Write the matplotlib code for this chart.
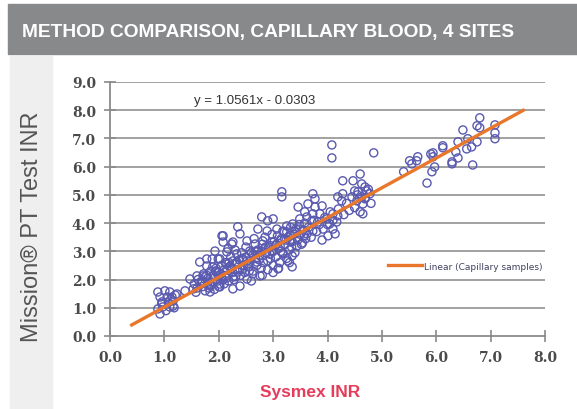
import numpy as np
import matplotlib.pyplot as plt
from matplotlib.patches import Rectangle

# Sysmex INR (x) vs Mission PT Test INR (y), capillary samples
sysmex = [
    # low cluster near 1.0
    0.88, 1.01, 1.10, 0.92, 1.05, 1.14, 0.96, 1.07, 1.16, 0.97, 1.10, 0.88, 1.23, 0.92, 1.16,
    1.12, 1.20, 1.03, 0.95, 1.18,
    # lower dense part
    1.38, 1.53, 1.47, 1.60, 1.69, 1.65, 1.78, 1.84, 2.02, 2.26, 1.88, 1.99, 2.21, 2.35,
    2.06, 2.08, 2.26, 2.17,
    1.80, 2.02, 2.39, 1.71, 1.99, 2.26, 2.52, 2.76, 1.89, 2.15, 2.39, 2.63, 1.78, 2.02,
    2.26, 2.52, 2.70, 2.90, 3.09, 3.27, 1.93, 2.15, 2.33, 2.57, 2.79, 2.98, 3.18, 3.35,
    2.24, 2.52, 2.67, 2.81, 2.98, 3.13, 3.31, 3.44, 2.08, 2.39, 2.72, 2.89, 3.07, 3.25,
    2.35, 2.79, 2.90, 3.00,
    1.55, 1.60, 1.62, 1.70, 1.72, 1.75, 1.80, 1.82, 1.85, 1.88, 1.90, 1.92, 1.95, 1.98,
    2.00, 2.00, 2.05, 2.05, 2.10, 2.10, 2.12, 2.15, 2.18, 2.20, 2.22, 2.25, 2.28, 2.30,
    2.30, 2.35, 2.38, 2.40, 2.42, 2.45, 2.48, 2.50, 2.50, 2.55, 2.58, 2.60, 2.62, 2.65,
    2.68, 2.70, 2.72, 2.75, 2.78, 2.80, 2.82, 2.85, 2.88, 2.90, 2.92, 2.95, 2.98, 3.00,
    3.00, 3.02, 3.05, 3.08, 3.10, 3.12, 3.15, 3.18, 3.20, 3.22, 3.25, 3.28, 3.30, 3.32,
    3.35, 3.38, 3.40, 3.42, 3.45, 3.48, 3.50, 3.52, 3.55, 3.58, 3.60, 3.65, 3.70, 3.75,
    3.80, 3.85, 3.90, 3.95, 4.00, 4.05, 4.10, 4.20, 4.30, 4.35, 4.40, 4.50, 4.55, 4.60,
    4.70, 4.75, 4.80,
    2.60, 2.80, 3.00, 3.10, 3.30, 3.35, 1.65, 1.75, 1.95, 2.15, 2.45, 2.70, 2.95, 3.15,
    1.58, 1.68, 1.78, 1.86, 1.94, 2.04, 2.14, 2.24, 2.34, 2.44, 2.54, 2.64, 2.74, 2.84,
    2.94, 3.04, 3.14, 3.24, 3.34, 3.44, 3.54,
    1.70, 1.83, 1.97, 2.08, 2.19, 2.31, 2.43, 2.56, 2.67, 2.86, 3.06, 3.21, 3.39, 3.57,
    # outliers
    3.16, 3.16, 4.08, 4.08, 4.85,
    # middle part
    4.60, 4.28, 4.47, 4.63, 4.69, 4.50, 4.56, 4.72, 4.78, 4.45, 4.63, 4.69, 4.28, 4.19,
    4.26, 4.54, 4.65, 4.65, 3.73, 3.77, 3.64, 3.46, 3.77, 3.90, 3.58, 3.73, 3.86, 3.62,
    3.49, 3.71, 3.82, 3.99, 4.10, 4.19, 4.04, 4.17, 3.92, 4.10, 4.01, 4.14, 3.25, 3.36,
    3.18, 3.49, 3.73, 3.62, 3.31,
    # upper part
    6.80, 6.75, 6.80, 7.08, 7.08, 7.08, 6.49, 6.58, 6.40, 6.75, 6.65, 6.56, 6.36, 6.40,
    6.29, 6.29, 6.12, 6.12, 5.94, 5.90, 5.94, 5.97, 5.92, 5.83, 5.66, 5.64, 5.51, 5.55,
    5.40, 6.67,
]
mission = [
    1.56, 1.60, 1.56, 1.38, 1.38, 1.38, 1.21, 1.21, 1.24, 1.03, 1.03, 0.96, 1.49, 0.78, 1.06,
    1.30, 1.45, 0.90, 1.15, 1.00,
    1.60, 1.67, 2.02, 2.13, 1.91, 2.62, 2.48, 1.56, 1.74, 1.67, 2.73, 2.73, 2.48, 2.27,
    3.55, 3.33, 3.33, 3.09,
    1.91, 1.84, 1.77, 2.13, 2.13, 2.09, 2.02, 2.13, 2.45, 2.38, 2.38, 2.30, 2.73, 2.73,
    2.66, 2.66, 2.62, 2.66, 2.38, 2.66, 3.01, 2.98, 2.91, 3.01, 3.01, 2.98, 2.91, 2.84,
    3.26, 3.37, 3.26, 3.37, 3.33, 3.19, 3.37, 3.19, 3.55, 3.62, 3.79, 3.72, 3.79, 3.69,
    3.87, 4.22, 4.08, 4.15,
    1.85, 1.70, 2.00, 1.75, 2.20, 1.60, 2.05, 1.70, 2.30, 1.90, 2.15, 1.65, 2.40, 1.95,
    2.25, 1.75, 2.50, 2.05, 1.85, 2.35, 2.60, 2.15, 1.95, 2.45, 2.80, 2.25, 2.00, 2.55,
    3.05, 2.35, 2.70, 2.15, 2.95, 2.50, 2.25, 2.80, 3.15, 2.45, 2.65, 2.95, 2.20, 3.45,
    2.75, 2.50, 3.05, 2.85, 2.40, 3.25, 2.60, 3.50, 2.95, 2.35, 3.15, 2.75, 3.60, 2.50,
    3.00, 3.35, 2.80, 3.55, 3.10, 2.60, 3.40, 2.95, 3.70, 3.25, 2.75, 3.50, 3.05, 3.85,
    3.35, 3.60, 2.95, 3.80, 3.40, 3.95, 3.60, 3.25, 3.75, 4.00, 3.45, 3.85, 3.50, 4.10,
    3.70, 3.95, 3.40, 4.20, 3.95, 4.40, 4.10, 4.50, 4.30, 4.70, 4.45, 4.55, 5.00, 4.40,
    4.90, 5.20, 4.70,
    1.95, 2.15, 2.25, 2.40, 2.60, 2.45, 1.90, 2.10, 2.30, 2.55, 2.70, 3.00, 3.20, 3.45,
    1.55, 1.85, 2.15, 1.80, 2.30, 2.20, 2.05, 2.40, 2.60, 2.35, 2.55, 2.90, 2.70, 3.10,
    2.90, 3.20, 3.00, 3.40, 3.15, 3.50, 3.30,
    1.95, 1.80, 2.25, 2.00, 2.60, 2.10, 2.75, 2.30, 3.00, 3.15, 3.25, 3.45, 3.70, 3.55,
    5.11, 4.93, 6.77, 6.31, 6.49,
    5.74, 5.50, 5.50, 5.39, 5.28, 5.14, 5.11, 5.14, 5.04, 4.93, 4.93, 4.86, 5.04, 4.93,
    4.79, 4.79, 4.68, 4.33, 5.04, 4.86, 4.68, 4.57, 4.57, 4.61, 4.40, 4.33, 4.33, 4.22,
    4.15, 4.08, 4.04, 4.15, 4.33, 4.26, 3.97, 4.04, 3.79, 3.79, 3.55, 3.62, 3.90, 3.97,
    3.72, 3.79, 3.72, 3.62, 3.55,
    7.73, 7.45, 7.38, 7.48, 7.20, 6.99, 7.30, 6.99, 6.88, 6.88, 6.70, 6.63, 6.52, 6.31,
    6.17, 6.10, 6.74, 6.67, 6.49, 6.45, 6.35, 5.99, 5.82, 5.42, 6.35, 6.21, 6.21, 6.10,
    5.82, 6.06,
]

slope = 1.0561
intercept = -0.0303
fit_x = [0.4, 7.6]

title = "METHOD COMPARISON, CAPILLARY BLOOD, 4 SITES"
xticks = [0, 1, 2, 3, 4, 5, 6, 7, 8]
yticks = [0, 1, 2, 3, 4, 5, 6, 7, 8, 9]

fig = plt.figure(figsize=(5.77, 4.10), dpi=100)

# header banner and left grey strip
fig.patches.append(Rectangle((8 / 577, 1 - 55 / 410), 1, 50 / 410,
                             transform=fig.transFigure, color="#88898b", zorder=0))
fig.patches.append(Rectangle((10 / 577, 0), 42 / 577, 1 - 57 / 410,
                             transform=fig.transFigure, color="#efefef", zorder=0))
fig.text(268 / 577, 1 - 32 / 410, title, color="white", fontsize=13.8,
         fontweight="bold", ha="center", va="center", family="Liberation Sans")

ax = fig.add_axes([110 / 577, 1 - 337 / 410, 435 / 577, 254 / 410])
ax.set_xlim(0, 8)
ax.set_ylim(0, 9)

for yv in yticks[1:]:
    ax.axhline(yv, color="#9a9a9a", lw=1.3, zorder=1)

ax.scatter(sysmex, mission, s=34, facecolors="none", edgecolors="#5a5ab0",
           linewidths=1.0, zorder=3)

fit_y = [slope * v + intercept for v in fit_x]
ax.plot(fit_x, fit_y, color="#e8762b", lw=2.4, zorder=4,
        label="Linear (Capillary samples)")

ax.text(1.55, 8.37, "y = 1.0561x - 0.0303", fontsize=9.5, color="#333333",
        va="center", family="Liberation Sans")

leg = ax.legend(loc="center left", bbox_to_anchor=(0.62, 0.275), frameon=False,
                fontsize=6.5, handlelength=3.8, handletextpad=0.2)
for t in leg.get_texts():
    t.set_color("#404060")

ax.set_xticks(xticks)
ax.set_yticks(yticks)
ax.set_xticklabels([f"{v:.1f}" for v in xticks])
ax.set_yticklabels([f"{v:.1f}" for v in yticks])
ax.tick_params(direction="inout", length=8, width=1.2, color="#8a8a8a",
               labelcolor="#4a4a4a", labelsize=10)
for lab in ax.get_xticklabels() + ax.get_yticklabels():
    lab.set_family("DejaVu Serif")
    lab.set_fontweight("bold")
ax.tick_params(axis="y", pad=6)
ax.tick_params(axis="x", pad=6)

for side in ["top", "right"]:
    ax.spines[side].set_visible(False)
for side in ["left", "bottom"]:
    ax.spines[side].set_color("#8a8a8a")
    ax.spines[side].set_linewidth(1.3)

fig.text(32 / 577, 1 - 227 / 410, "Mission® PT Test INR", rotation=90,
         fontsize=17, color="#555555", ha="center", va="center",
         family="Liberation Sans")
fig.text(310 / 577, 1 - 393 / 410, "Sysmex INR", fontsize=12.5, color="#e63c5c",
         fontweight="bold", ha="center", va="center", family="Liberation Sans")

fig.savefig("out.png", dpi=100)
